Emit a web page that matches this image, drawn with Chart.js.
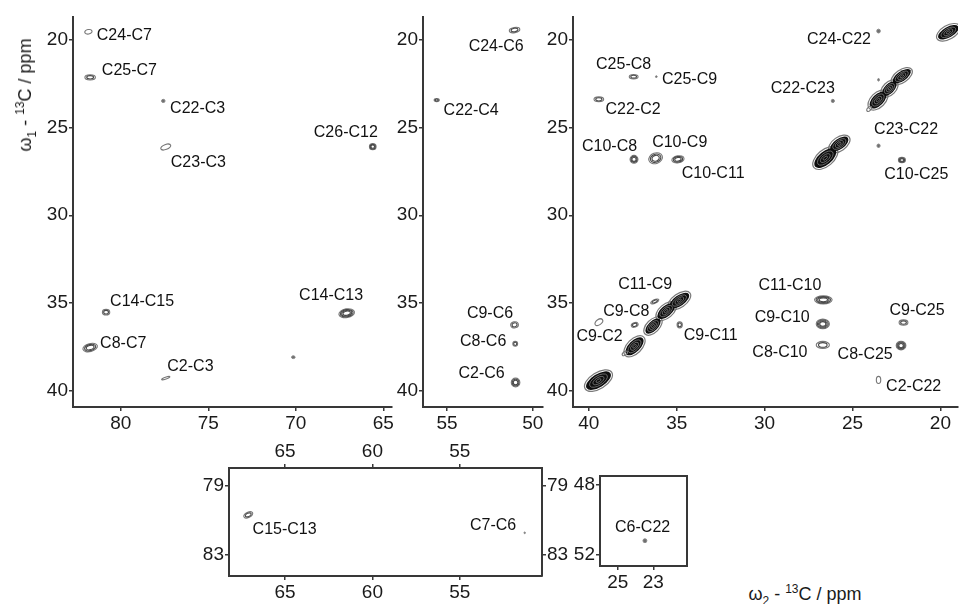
<!DOCTYPE html>
<html>
<head>
<meta charset="utf-8">
<script src="https://cdn.jsdelivr.net/npm/chart.js@4.4.1/dist/chart.umd.min.js"></script>
<style>
  body { margin: 0; background: #fff; width: 959px; height: 604px; overflow: hidden; position: relative; font-family: "Liberation Sans", Arial, sans-serif; }
  canvas { position: absolute; }
  .ttl { position: absolute; font-size: 18px; color: #1a1a1a; white-space: nowrap; line-height: 1; }
  .ttl sub, .ttl sup { font-size: 12px; line-height: 0; }
  #ytitle { left: 25px; top: 95px; transform: translate(-50%, -50%) rotate(-90deg); }
  #xtitle { left: 805px; top: 594px; transform: translate(-50%, -50%); }
</style>
</head>
<body>
<canvas id="pA"></canvas>
<canvas id="pB"></canvas>
<canvas id="pC"></canvas>
<canvas id="pD"></canvas>
<canvas id="pE"></canvas>
<div class="ttl" id="ytitle">ω<sub>1</sub> - <sup>13</sup>C / ppm</div>
<div class="ttl" id="xtitle">ω<sub>2</sub> - <sup>13</sup>C / ppm</div>
<script>
// ---- tick labels ----
const ticksMainY = [20, 25, 30, 35, 40];
const ticksA_X = [80, 75, 70, 65];
const ticksB_X = [55, 50];
const ticksC_X = [40, 35, 30, 25, 20];
const ticksD_X = [65, 60, 55];
const ticksD_Y = [79, 83];
const ticksE_X = [25, 23];
const ticksE_Y = [48, 52];

// ---- cross peaks: [w2 ppm, w1 ppm, width w2, width w1, tilt deg, contour levels] ----
const peaksA = [
  [81.85, 19.57, 0.42, 0.26, -10, 1],
  [81.75, 22.16, 0.60, 0.30, 0, 2],
  [77.57, 23.50, 0.20, 0.18, 0, 1],
  [77.43, 26.12, 0.60, 0.28, -20, 1],
  [65.60, 26.10, 0.38, 0.34, 0, 3],
  [67.09, 35.57, 0.90, 0.50, -10, 4],
  [80.84, 35.51, 0.42, 0.32, 0, 2],
  [81.75, 37.52, 0.85, 0.45, -15, 3],
  [77.43, 39.26, 0.50, 0.10, -20, 1],
  [70.14, 38.07, 0.20, 0.16, 0, 1]
];
const peaksB = [
  [51.06, 19.47, 0.62, 0.30, -10, 2],
  [55.60, 23.45, 0.30, 0.18, 0, 2],
  [51.06, 36.23, 0.45, 0.35, -15, 2],
  [51.02, 37.31, 0.28, 0.28, 0, 2],
  [51.00, 39.51, 0.50, 0.50, 0, 3]
];
const peaksC = [
  [23.52, 19.53, 0.20, 0.22, 0, 1],
  [37.45, 22.12, 0.50, 0.25, 0, 2],
  [36.16, 22.12, 0.10, 0.10, 0, 1],
  [39.43, 23.41, 0.55, 0.28, 0, 2],
  [37.43, 26.82, 0.45, 0.45, 0, 3],
  [36.20, 26.76, 0.80, 0.60, -20, 3],
  [34.93, 26.82, 0.70, 0.40, -10, 3],
  [26.12, 23.50, 0.18, 0.18, 0, 1],
  [23.52, 22.30, 0.10, 0.15, 0, 1],
  [23.52, 26.05, 0.18, 0.20, 0, 1],
  [22.19, 26.86, 0.40, 0.30, 0, 3],
  [24.05, 23.95, 0.35, 0.20, -45, 1],
  [37.95, 37.85, 0.35, 0.20, -40, 1],
  [36.25, 34.90, 0.50, 0.20, -25, 2],
  [37.39, 36.23, 0.40, 0.25, -20, 2],
  [39.43, 36.08, 0.50, 0.30, -35, 1],
  [34.83, 36.23, 0.30, 0.35, 0, 2],
  [26.66, 34.81, 1.00, 0.45, 0, 4],
  [26.69, 36.18, 0.75, 0.55, 0, 4],
  [26.69, 37.37, 0.75, 0.40, 0, 2],
  [22.10, 36.10, 0.50, 0.30, 0, 2],
  [22.24, 37.41, 0.55, 0.50, 0, 4],
  [23.52, 39.36, 0.25, 0.40, 0, 1]
];
const peaksD = [
  [67.10, 80.69, 0.55, 0.30, -25, 2],
  [51.29, 81.72, 0.08, 0.10, 0, 1]
];
const peaksE = [
  [23.47, 51.18, 0.22, 0.22, 0, 2]
];
// diagonal (auto) peaks: [w2, w1, long width, short width, tilt deg]
const diagC = [
  [39.45, 39.40, 1.60, 0.75, -32],
  [37.40, 37.45, 1.30, 0.65, -45],
  [36.35, 36.30, 1.10, 0.55, -45],
  [35.60, 35.45, 1.20, 0.60, -40],
  [34.85, 34.85, 1.30, 0.60, -35],
  [26.55, 26.75, 1.50, 0.75, -40],
  [25.75, 25.95, 1.20, 0.60, -35],
  [23.55, 23.45, 1.20, 0.65, -45],
  [22.90, 22.80, 1.00, 0.55, -45],
  [22.20, 22.10, 1.20, 0.55, -35],
  [19.55, 19.60, 1.30, 0.60, -30]
];

// ---- assignments: [text, w2, w1, align] ----
const labelsA = [
  ['C24-C7', 81.37, 19.76, 'left'],
  ['C25-C7', 81.08, 21.80, 'left'],
  ['C22-C3', 77.18, 23.92, 'left'],
  ['C23-C3', 77.14, 27.00, 'left'],
  ['C26-C12', 67.14, 25.30, 'center'],
  ['C14-C13', 67.98, 34.57, 'center'],
  ['C14-C15', 80.61, 34.90, 'left'],
  ['C8-C7', 81.18, 37.27, 'left'],
  ['C2-C3', 77.34, 38.60, 'left']
];
const labelsB = [
  ['C24-C6', 52.13, 20.42, 'center'],
  ['C22-C4', 55.20, 24.07, 'left'],
  ['C9-C6', 52.49, 35.57, 'center'],
  ['C8-C6', 52.89, 37.18, 'center'],
  ['C2-C6', 52.98, 39.02, 'center']
];
const labelsC = [
  ['C24-C22', 25.77, 20.00, 'center'],
  ['C25-C8', 38.02, 21.42, 'center'],
  ['C25-C9', 35.84, 22.26, 'left'],
  ['C22-C2', 39.05, 24.02, 'left'],
  ['C10-C8', 38.82, 26.10, 'center'],
  ['C10-C9', 34.83, 25.87, 'center'],
  ['C10-C11', 32.93, 27.65, 'center'],
  ['C22-C23', 27.83, 22.78, 'center'],
  ['C23-C22', 21.95, 25.15, 'center'],
  ['C10-C25', 21.37, 27.67, 'center'],
  ['C11-C9', 36.79, 33.96, 'center'],
  ['C9-C8', 37.87, 35.48, 'center'],
  ['C9-C2', 39.39, 36.90, 'center'],
  ['C9-C11', 34.60, 36.84, 'left'],
  ['C11-C10', 28.56, 34.00, 'center'],
  ['C9-C10', 29.00, 35.82, 'center'],
  ['C8-C10', 29.13, 37.78, 'center'],
  ['C9-C25', 21.33, 35.44, 'center'],
  ['C8-C25', 24.28, 37.94, 'center'],
  ['C2-C22', 23.09, 39.74, 'left']
];
const labelsD = [
  ['C15-C13', 66.85, 81.52, 'left'],
  ['C7-C6', 53.10, 81.33, 'center']
];
const labelsE = [
  ['C6-C22', 23.60, 50.44, 'center']
];

const FONT = '"Liberation Sans", Arial, sans-serif';
const AXIS = '#383838';

function ring(ctx, cx, cy, rx, ry, rot) {
  ctx.beginPath();
  ctx.ellipse(cx, cy, Math.max(rx, 0.6), Math.max(ry, 0.6), rot, 0, Math.PI * 2);
}

// draws contours + labels on top of the (invisible) scatter points
const nmrPlugin = {
  id: 'nmr',
  afterDatasetsDraw(chart, args, opts) {
    const { ctx, chartArea: ca, scales: { x, y } } = chart;
    const ppx = Math.abs(x.getPixelForValue(1) - x.getPixelForValue(0));
    const ppy = Math.abs(y.getPixelForValue(1) - y.getPixelForValue(0));
    ctx.save();
    ctx.beginPath();
    ctx.rect(ca.left, ca.top, ca.right - ca.left, ca.bottom - ca.top);
    ctx.clip();

    // diagonal peaks (dataset 1)
    const dm = chart.getDatasetMeta(1);
    if (dm && opts.diag.length) {
      const shapes = opts.diag.map((d, i) => ({
        cx: dm.data[i].x, cy: dm.data[i].y,
        a: d[2] * ppx / 2, b: d[3] * ppx / 2, r: d[4] * Math.PI / 180
      }));
      shapes.forEach(s => { ring(ctx, s.cx, s.cy, s.a + 1.6, s.b + 1.6, s.r); ctx.strokeStyle = '#7a7a7a'; ctx.lineWidth = 1.2; ctx.stroke(); });
      shapes.forEach(s => { ring(ctx, s.cx, s.cy, s.a, s.b, s.r); ctx.fillStyle = '#0e0e0e'; ctx.fill(); });
      shapes.forEach(s => {
        [0.72, 0.45, 0.2].forEach(f => {
          ring(ctx, s.cx, s.cy, s.a * f, s.b * f, s.r);
          ctx.strokeStyle = '#7c7c7c'; ctx.lineWidth = 0.8; ctx.stroke();
        });
      });
    }

    // cross peaks (dataset 0)
    const pm = chart.getDatasetMeta(0);
    opts.peaks.forEach((p, i) => {
      const cx = pm.data[i].x, cy = pm.data[i].y;
      const rx = p[2] * ppx / 2, ry = p[3] * ppy / 2, rot = p[4] * Math.PI / 180;
      if (rx < 2.2 && ry < 2.2) {
        ring(ctx, cx, cy, rx, ry, rot);
        ctx.fillStyle = '#6e6e6e'; ctx.fill();
        ctx.strokeStyle = '#888'; ctx.lineWidth = 1; ctx.stroke();
        return;
      }
      for (let k = 0; k < p[5]; k++) {
        const f = 1 - k * 0.7 / p[5];
        ring(ctx, cx, cy, rx * f, ry * f, rot);
        ctx.strokeStyle = k === 0 ? '#777' : '#484848';
        ctx.lineWidth = 1.1;
        ctx.stroke();
      }
    });
    ctx.restore();

    // assignments
    ctx.save();
    ctx.font = '16px ' + FONT;
    ctx.fillStyle = '#111';
    ctx.textBaseline = 'middle';
    opts.labels.forEach(l => {
      ctx.textAlign = l[3];
      ctx.fillText(l[0], x.getPixelForValue(l[1]), y.getPixelForValue(l[2]));
    });
    ctx.restore();

    if (opts.box) {
      ctx.save();
      ctx.strokeStyle = AXIS; ctx.lineWidth = 2;
      ctx.strokeRect(ca.left, ca.top, ca.right - ca.left, ca.bottom - ca.top);
      ctx.restore();
    }
  }
};

function axis(pos, min, max, ticks, size, extra) {
  return Object.assign({
    type: 'linear', position: pos, reverse: true, min: min, max: max,
    afterBuildTicks: s => { s.ticks = ticks.map(v => ({ value: v })); },
    afterFit: s => {
      if (s.isHorizontal()) s.height = size; else s.width = size;
      s.paddingTop = s.paddingBottom = s.paddingLeft = s.paddingRight = 0;
    },
    grid: { display: true, drawOnChartArea: false, drawTicks: true, tickLength: 4, color: AXIS, lineWidth: 1.5 },
    border: { display: true, color: AXIS, width: 2 },
    ticks: { display: true, padding: 1, color: '#1a1a1a', font: { family: FONT, size: 19 }, autoSkip: false, maxRotation: 0 }
  }, extra || {});
}

// area = chart area in page px, pad = canvas space around it
function makePanel(id, area, pad, scales, peaks, diag, labels, box) {
  const cv = document.getElementById(id);
  const w = area.r - area.l + pad.l + pad.r;
  const h = area.b - area.t + pad.t + pad.b;
  cv.width = w; cv.height = h;
  cv.style.left = (area.l - pad.l) + 'px';
  cv.style.top = (area.t - pad.t) + 'px';
  cv.style.width = w + 'px'; cv.style.height = h + 'px';
  const hasTop = Object.values(scales).some(s => s.position === 'top');
  const hasRight = Object.values(scales).some(s => s.position === 'right');
  return new Chart(cv, {
    type: 'scatter',
    data: {
      datasets: [
        { data: peaks.map(p => ({ x: p[0], y: p[1] })), pointRadius: 0, pointHoverRadius: 0 },
        { data: diag.map(p => ({ x: p[0], y: p[1] })), pointRadius: 0, pointHoverRadius: 0 }
      ]
    },
    options: {
      responsive: false,
      animation: false,
      devicePixelRatio: 1,
      layout: { padding: { top: hasTop ? 0 : pad.t, right: hasRight ? 0 : pad.r, left: 0, bottom: 0 } },
      scales: scales,
      plugins: {
        legend: { display: false },
        tooltip: { enabled: false },
        nmr: { peaks: peaks, diag: diag, labels: labels, box: box }
      }
    },
    plugins: [nmrPlugin]
  });
}

makePanel('pA', { l: 73, r: 392, t: 17, b: 407 }, { l: 73, r: 14, t: 10, b: 40 }, {
  x: axis('bottom', 64.5, 82.73, ticksA_X, 40),
  y: axis('left', 18.73, 40.9, ticksMainY, 73)
}, peaksA, [], labelsA, false);

makePanel('pB', { l: 423, r: 543, t: 17, b: 407 }, { l: 40, r: 10, t: 10, b: 40 }, {
  x: axis('bottom', 49.4, 56.4, ticksB_X, 40),
  y: axis('left', 18.73, 40.9, ticksMainY, 40)
}, peaksB, [], labelsB, false);

makePanel('pC', { l: 573, r: 958, t: 17, b: 407 }, { l: 40, r: 1, t: 10, b: 40 }, {
  x: axis('bottom', 19.0, 40.9, ticksC_X, 40),
  y: axis('left', 18.73, 40.9, ticksMainY, 40)
}, peaksC, diagC, labelsC, false);

makePanel('pD', { l: 229, r: 542, t: 468, b: 576 }, { l: 36, r: 36, t: 30, b: 28 }, {
  x: axis('bottom', 50.3, 68.2, ticksD_X, 28),
  x2: axis('top', 50.3, 68.2, ticksD_X, 30, { axis: 'x' }),
  y: axis('left', 78.0, 84.2, ticksD_Y, 36),
  y2: axis('right', 78.0, 84.2, ticksD_Y, 36, { axis: 'y' })
}, peaksD, [], labelsD, false);

makePanel('pE', { l: 600, r: 687, t: 476, b: 566 }, { l: 36, r: 4, t: 4, b: 28 }, {
  x: axis('bottom', 21.1, 26.0, ticksE_X, 28),
  y: axis('left', 47.47, 52.63, ticksE_Y, 36)
}, peaksE, [], labelsE, true);
</script>
</body>
</html>
